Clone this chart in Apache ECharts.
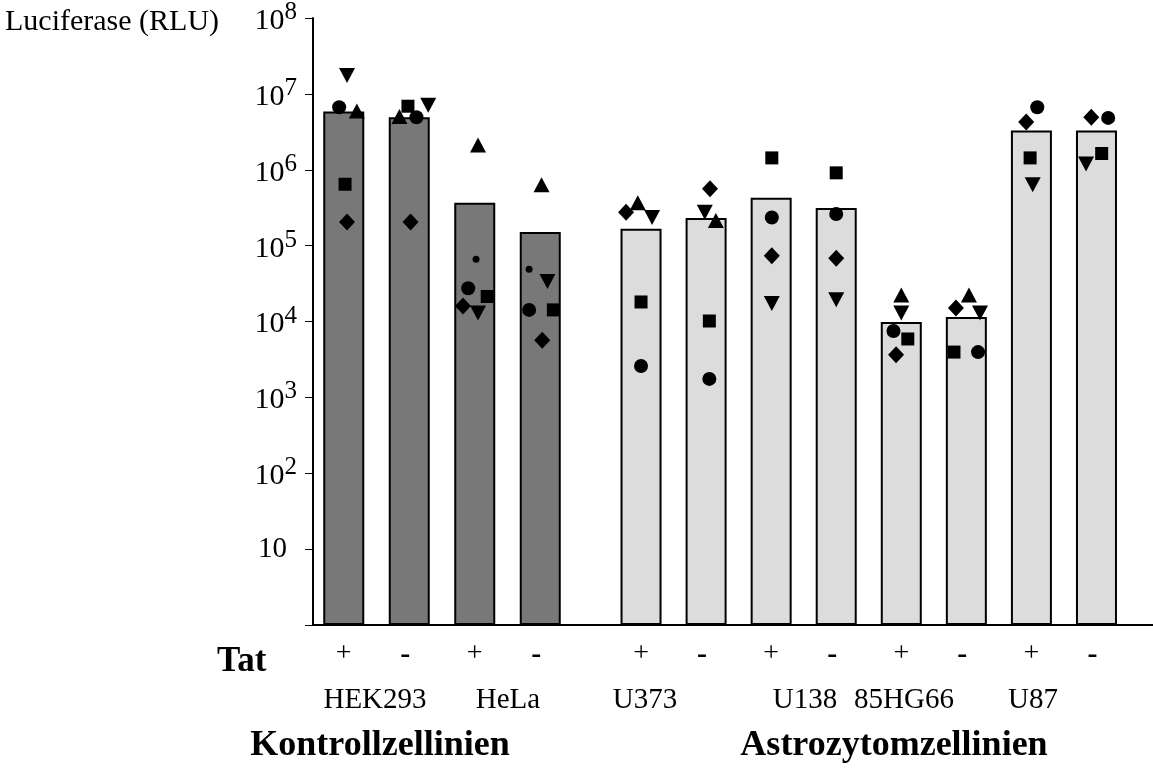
<!DOCTYPE html>
<html>
<head>
<meta charset="utf-8">
<title>Luciferase</title>
<script src="https://cdn.jsdelivr.net/npm/echarts@6/dist/echarts.min.js"></script>
<style>
  html, body { margin: 0; padding: 0; background: #fff; }
  #chart { width: 1153px; height: 770px; }
</style>
</head>
<body>
<div id="chart"></div>
<script>
// Tat +/- per bar, first 4 = Kontrollzellinien, rest = Astrozytomzellinien
const tatLabels = ['+', '-', '+', '-', '+', '-', '+', '-', '+', '-', '+', '-'];
const cellLines = ['HEK293', 'HeLa', 'U373', 'U138', '85HG66', 'U87'];
const groupNames = ['Kontrollzellinien', 'Astrozytomzellinien'];

// bar heights (RLU)
const barValues = [5.7e6, 4.8e6, 3.6e5, 1.48e5, 1.63e5, 2.26e5, 4.2e5, 3.07e5, 9.7e3, 1.13e4, 3.2e6, 3.2e6];

// single measurements, one array per marker shape (null = none)
const circleValues = [6.5e6, 4.8e6, 2.7e4, 1.4e4, 2.56e3, 1.73e3, 2.3e5, 2.56e5, 7.4e3, 3.9e3, 6.5e6, 4.7e6];
const squareValues = [6.3e5, 6.7e6, 2.1e4, 1.4e4, 1.78e4, 1.0e4, 1.4e6, 8.9e5, 5.8e3, 3.9e3, 1.4e6, 1.6e6];
const triangleValues = [5.8e6, 4.9e6, 2.07e6, 6.2e5, 3.6e5, 2.1e5, null, null, 2.2e4, 2.2e4, null, null];
const invTriangleValues = [1.7e7, 6.9e6, 1.27e4, 3.3e4, 2.3e5, 2.7e5, 1.7e4, 1.9e4, 1.27e4, 1.27e4, 6.2e5, 1.16e6];
const diamondValues = [2.0e5, 2.0e5, 1.57e4, 5.6e3, 2.7e5, 5.5e5, 7.2e4, 6.7e4, 3.6e3, 1.48e4, 4.15e6, 4.8e6];
const dotValues = [null, null, 6.5e4, 4.8e4, null, null, null, null, null, null, null, null];

// horizontal scatter of the markers inside a bar slot (fraction of a slot)
const shift = {
  circle: [-0.07, 0.11, -0.1, -0.17, 0, 0.05, 0.01, 0, -0.12, 0.18, 0.09, 0.18],
  square: [0.02, -0.02, 0.19, 0.2, 0, 0.05, 0.01, 0, 0.1, -0.19, -0.02, 0.08],
  triangle: [0.2, -0.15, 0.05, 0.02, -0.05, 0.15, 0, 0, 0, 0.04, 0, 0],
  invTriangle: [0.05, 0.29, 0.05, 0.11, 0.17, -0.02, 0.01, 0, 0, 0.21, 0.02, -0.16],
  diamond: [0.05, 0.02, -0.18, 0.03, -0.23, 0.06, 0.01, 0, -0.08, -0.16, -0.08, -0.08],
  dot: [0, 0, 0.02, -0.17, 0, 0, 0, 0, 0, 0, 0, 0]
};

const serif = '"Liberation Serif", "Times New Roman", serif';
const gridTop = 17, gridBottom = 145;
const nCtrl = 4;

const chart = echarts.init(document.getElementById('chart'));

const shapes = [
  { key: 'circle', values: circleValues, symbol: 'circle', size: 14 },
  { key: 'square', values: squareValues, symbol: 'rect', size: 13 },
  { key: 'triangle', values: triangleValues, symbol: 'triangle', size: [16, 15] },
  { key: 'invTriangle', values: invTriangleValues, symbol: 'triangle', size: [16, 15], rotate: 180 },
  { key: 'diamond', values: diamondValues, symbol: 'diamond', size: [16, 17] },
  { key: 'dot', values: dotValues, symbol: 'circle', size: 7 }
];

const series = [
  {
    type: 'bar', xAxisIndex: 1, yAxisIndex: 1, barWidth: 41,
    data: barValues.slice(0, nCtrl),
    itemStyle: { color: '#787878', borderColor: '#000', borderWidth: 2 },
    z: 2
  },
  {
    type: 'bar', xAxisIndex: 3, yAxisIndex: 2, barWidth: 41,
    data: barValues.slice(nCtrl),
    itemStyle: { color: '#dcdcdc', borderColor: '#000', borderWidth: 2 },
    z: 2
  }
];

shapes.forEach(s => {
  [0, 1].forEach(g => {
    const data = [];
    s.values.forEach((v, i) => {
      if (v == null) return;
      if ((g === 0) !== (i < nCtrl)) return;
      const idx = g === 0 ? i : i - nCtrl;
      data.push([idx + shift[s.key][i], v]);
    });
    series.push({
      type: 'scatter',
      xAxisIndex: g === 0 ? 2 : 4,
      yAxisIndex: g === 0 ? 1 : 2,
      symbol: s.symbol,
      symbolSize: s.size,
      symbolRotate: s.rotate || 0,
      itemStyle: { color: '#000', opacity: 1 },
      data: data,
      z: 5
    });
  });
});

const hiddenLog = {
  type: 'log', logBase: 10, min: 1, max: 1e8, show: false
};

const tatAxis = (gridIndex, labels) => ({
  type: 'category', gridIndex: gridIndex, data: labels,
  axisLine: { show: false }, axisTick: { show: false },
  axisLabel: {
    margin: 15, color: '#000',
    formatter: v => (v === '-' ? '{minus|-}' : '{plus|+}'),
    rich: {
      plus: { fontSize: 28, fontFamily: serif, color: '#000' },
      minus: { fontSize: 30, fontWeight: 'bold', fontFamily: serif, color: '#000', padding: [0, 8, 0, 0] }
    }
  }
});

const option = {
  animation: false,
  textStyle: { fontFamily: serif, color: '#000' },
  grid: [
    { left: 313, right: 0, top: gridTop, bottom: gridBottom },
    { left: 311, width: 262, top: gridTop, bottom: gridBottom },
    { left: 608.5, width: 520.5, top: gridTop, bottom: gridBottom }
  ],
  xAxis: [
    { type: 'value', gridIndex: 0, min: 0, max: 1,
      axisLine: { show: true, lineStyle: { color: '#000', width: 2 } },
      axisTick: { show: false }, axisLabel: { show: false }, splitLine: { show: false } },
    tatAxis(1, tatLabels.slice(0, nCtrl)),
    { type: 'value', gridIndex: 1, min: -0.5, max: nCtrl - 0.5, show: false },
    tatAxis(2, tatLabels.slice(nCtrl)),
    { type: 'value', gridIndex: 2, min: -0.5, max: tatLabels.length - nCtrl - 0.5, show: false }
  ],
  yAxis: [
    {
      type: 'log', logBase: 10, gridIndex: 0, min: 1, max: 1e8, splitNumber: 8,
      axisLine: { show: true, lineStyle: { color: '#000', width: 2 } },
      axisTick: { show: true, length: 8, lineStyle: { color: '#000', width: 1 } },
      splitLine: { show: false },
      axisLabel: {
        margin: 16,
        color: '#000',
        formatter: v => {
          const e = Math.round(Math.log10(v));
          if (e === 0) return '';
          if (e === 1) return '{ten|10}';
          return '{base|10}{sup|' + e + '}';
        },
        rich: {
          ten: { fontSize: 29, fontFamily: serif, color: '#000', padding: [0, 10, 0, 0] },
          base: { fontSize: 30, fontFamily: serif, color: '#000', lineHeight: 36, verticalAlign: 'bottom' },
          sup: { fontSize: 25, fontFamily: serif, color: '#000', lineHeight: 24, verticalAlign: 'top' }
        }
      }
    },
    Object.assign({ gridIndex: 1 }, hiddenLog),
    Object.assign({ gridIndex: 2 }, hiddenLog)
  ],
  graphic: [
    { type: 'text', left: 5, top: 7,
      style: { text: 'Luciferase (RLU)', font: '30px ' + serif, fill: '#000' } },
    { type: 'text', left: 217, top: 644,
      style: { text: 'Tat', font: 'bold 35px ' + serif, fill: '#000' } }
  ].concat(cellLines.map((name, i) => ({
    type: 'text', x: [375, 508, 645, 805, 904, 1033][i], y: 700,
    style: { text: name, font: '29px ' + serif, fill: '#000', align: 'center', verticalAlign: 'middle' }
  }))).concat(groupNames.map((name, i) => ({
    type: 'text', x: [380, 894][i], y: 746,
    style: { text: name, font: 'bold 36px ' + serif, fill: '#000', align: 'center', verticalAlign: 'middle' }
  }))),
  series: series
};

chart.setOption(option);
</script>
</body>
</html>
